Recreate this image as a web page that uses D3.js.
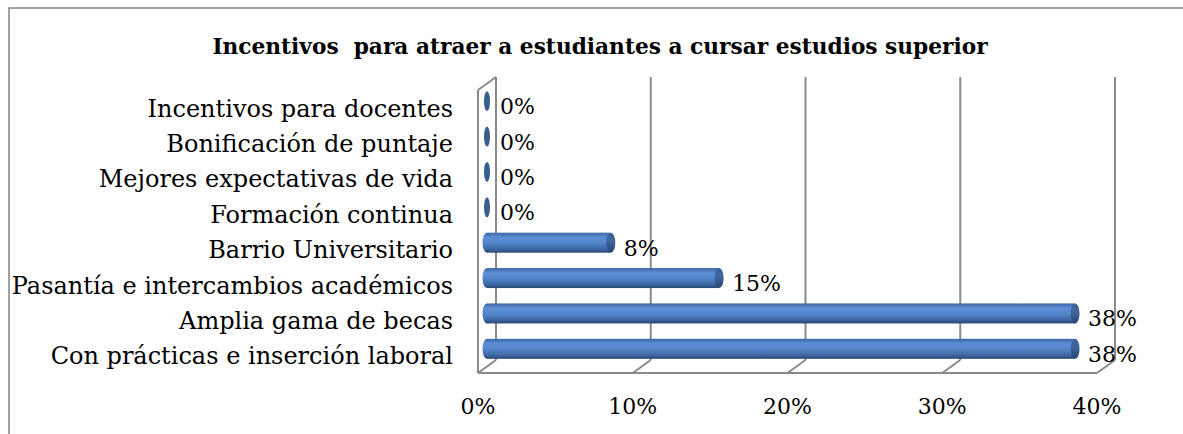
<!DOCTYPE html>
<html><head><meta charset="utf-8">
<script src="https://cdn.jsdelivr.net/npm/d3@7"></script>
<style>body{margin:0;background:#fff}svg{display:block}</style>
</head><body>
<svg id="c" width="1183" height="434"></svg>
<script>
const categories = ["Incentivos para docentes","Bonificación de puntaje","Mejores expectativas de vida","Formación continua","Barrio Universitario","Pasantía e intercambios académicos","Amplia gama de becas","Con prácticas e inserción laboral"];
const values = [0,0,0,0,8,15,38,38];
const tickValues = [0,10,20,30,40];
const tickLabels = ["0%","10%","20%","30%","40%"];
const title = "Incentivos  para atraer a estudiantes a cursar estudios superior";

const svg = d3.select("#c");
const FONT = "DejaVu Serif, serif";
const DX = 18, DY = -13;
const x = d3.scaleLinear().domain([0,40]).range([478,1097]);
const y = d3.scaleBand().domain(categories).range([90,373]).paddingInner(0).paddingOuter(0);
const grid = "#8a8a8a";

// frame
svg.append("rect").attr("x",9).attr("y",8).attr("width",1300).attr("height",600)
  .attr("fill","none").attr("stroke",grid).attr("stroke-width",1.6);

// title
svg.append("text").attr("x",600).attr("y",54).attr("text-anchor","middle")
  .attr("font-family",FONT).attr("font-weight","bold").attr("font-size",21.7)
  .style("white-space","pre").text(title);

const defs = svg.append("defs");
const g1 = defs.append("linearGradient").attr("id","body").attr("x1",0).attr("y1",0).attr("x2",0).attr("y2",1);
[[0,"#3d67a6"],[0.25,"#5d8fd5"],[0.5,"#5387cc"],[0.8,"#3f6aa9"],[1,"#2a4673"]].forEach(s=>g1.append("stop").attr("offset",s[0]).attr("stop-color",s[1]));
const g2 = defs.append("linearGradient").attr("id","cap").attr("x1",0).attr("y1",0).attr("x2",0).attr("y2",1);
[[0,"#3a5f99"],[0.4,"#40669f"],[1,"#2a4570"]].forEach(s=>g2.append("stop").attr("offset",s[0]).attr("stop-color",s[1]));

// walls & floor
const [y0f, y1f] = [90, 373];
const lines = [];
lines.push([x(0),y0f,x(0),y1f]);
lines.push([x(0),y0f,x(0)+DX,y0f+DY]);
lines.push([x(0)+DX,y0f+DY,x(0)+DX,y1f+DY]);
lines.push([x(0),y1f,x(40),y1f]);
tickValues.forEach(t=>{
  lines.push([x(t),y1f,x(t)+DX,y1f+DY]);
  if(t>0) lines.push([x(t)+DX,y0f+DY,x(t)+DX,y1f+DY]);
});
svg.append("g").selectAll("line").data(lines).join("line")
  .attr("x1",d=>d[0]).attr("y1",d=>d[1]).attr("x2",d=>d[2]).attr("y2",d=>d[3])
  .attr("stroke",grid).attr("stroke-width",2);

// tick labels
svg.append("g").selectAll("text").data(tickValues).join("text")
  .attr("x",d=>x(d)).attr("y",414).attr("text-anchor","middle")
  .attr("font-family",FONT).attr("font-size",22).attr("fill","#000")
  .text((d,i)=>tickLabels[i]);

// category labels
svg.append("g").selectAll("text").data(categories).join("text")
  .attr("x",453).attr("y",d=>y(d)+y.bandwidth()/2+1).attr("dominant-baseline","central")
  .attr("text-anchor","end").attr("font-family",FONT).attr("font-size",24).attr("fill","#000")
  .text(d=>d);

// bars (mid-depth)
const mx = DX/2, my = DY/2, bh = 20, rx = 4.5;
const bars = svg.append("g");
categories.forEach((c,i)=>{
  const v = values[i];
  const cy = y(c)+y.bandwidth()/2+my;
  const xa = x(0)+mx, xb = x(v)+mx;
  const g = bars.append("g");
  if (v>0){
    g.append("ellipse").attr("cx",xa).attr("cy",cy).attr("rx",rx).attr("ry",bh/2).attr("fill","url(#body)");
    g.append("rect").attr("x",xa).attr("y",cy-bh/2).attr("width",xb-xa).attr("height",bh).attr("fill","url(#body)");
  }
  g.append("ellipse").attr("cx",xb).attr("cy",cy).attr("rx",v>0?rx:3).attr("ry",bh/2).attr("fill",v>0?"url(#cap)":"#385d8f");
  svg.append("text").attr("x",xb+13).attr("y",y(c)+y.bandwidth()/2-1).attr("dominant-baseline","central")
    .attr("font-family",FONT).attr("font-size",22).attr("fill","#000").text(v+"%");
});
</script>
</body></html>
